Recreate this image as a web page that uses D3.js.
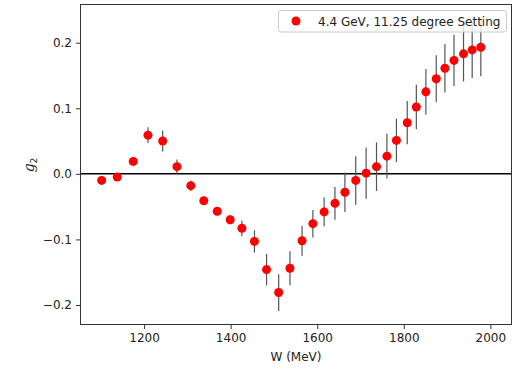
<!DOCTYPE html>
<html>
<head>
    <meta charset="utf-8">
    <title>g2 vs W</title>
    <style>
        body { margin: 0; padding: 0; background: #fff; }
        text { font-family: "DejaVu Sans", sans-serif; fill: #222; }
    </style>
</head>
<body>
    <div id="chart"></div>
    <script src="https://d3js.org/d3.v7.min.js"></script>
    <script>
        // data
        var wValues = [1102, 1138, 1175, 1209, 1243, 1276, 1308, 1338, 1369, 1399, 1426, 1455,
            1483, 1511, 1537, 1565, 1590, 1616, 1641, 1664, 1689, 1713, 1737, 1761, 1783,
            1808, 1829, 1851, 1875, 1895, 1916, 1938, 1958, 1978];
        var g2Values = [-0.010, -0.005, 0.019, 0.059, 0.050, 0.011, -0.018, -0.041, -0.057, -0.070,
            -0.083, -0.103, -0.146, -0.181, -0.144, -0.102, -0.076, -0.058, -0.045, -0.028,
            -0.010, 0.001, 0.011, 0.027, 0.051, 0.078, 0.102, 0.125, 0.145, 0.161, 0.173,
            0.183, 0.189, 0.193];
        var g2Errors = [0.004, 0.004, 0.004, 0.012, 0.016, 0.011, 0.008, 0.006, 0.006, 0.007,
            0.012, 0.017, 0.024, 0.028, 0.026, 0.023, 0.021, 0.022, 0.025, 0.030, 0.037,
            0.039, 0.037, 0.034, 0.033, 0.033, 0.034, 0.035, 0.036, 0.037, 0.039, 0.042,
            0.043, 0.044];
        var xTicks = [1200, 1400, 1600, 1800, 2000];
        var yTicks = [-0.2, -0.1, 0.0, 0.1, 0.2];
        var legendLabel = "4.4 GeV, 11.25 degree Setting";

        var width = 524, height = 368;
        var margin = { top: 4, right: 12, bottom: 43, left: 80 };
        var fontSize = "12px";

        var svg = d3.select("#chart").append("svg")
            .attr("width", width)
            .attr("height", height);

        var x = d3.scaleLinear().domain([1052, 2050]).range([margin.left, width - margin.right]);
        var y = d3.scaleLinear().domain([-0.2305, 0.259]).range([height - margin.bottom, margin.top]);

        var points = wValues.map(function (w, i) {
            return { w: w, g: g2Values[i], e: g2Errors[i] };
        });

        var plot = svg.append("g");
        plot.append("clipPath").attr("id", "clip")
            .append("rect")
            .attr("x", margin.left).attr("y", margin.top)
            .attr("width", width - margin.left - margin.right)
            .attr("height", height - margin.top - margin.bottom);

        var inner = plot.append("g").attr("clip-path", "url(#clip)");

        // zero line
        inner.append("line")
            .attr("x1", margin.left).attr("x2", width - margin.right)
            .attr("y1", y(0)).attr("y2", y(0))
            .style("stroke", "#000")
            .style("stroke-width", 1.5);

        // error bars
        inner.selectAll(".err").data(points).enter().append("line")
            .attr("class", "err")
            .attr("x1", function (d) { return x(d.w); })
            .attr("x2", function (d) { return x(d.w); })
            .attr("y1", function (d) { return y(d.g - d.e); })
            .attr("y2", function (d) { return y(d.g + d.e); })
            .style("stroke", "#555")
            .style("stroke-width", 1.2);

        // markers
        inner.selectAll(".dot").data(points).enter().append("circle")
            .attr("class", "dot")
            .attr("cx", function (d) { return x(d.w); })
            .attr("cy", function (d) { return y(d.g); })
            .attr("r", 4.5)
            .style("fill", "#ff0000");

        // axes
        var xAxis = svg.append("g")
            .attr("transform", "translate(0," + (height - margin.bottom) + ")")
            .call(d3.axisBottom(x).tickValues(xTicks).tickSize(4).tickPadding(4).tickFormat(d3.format("d")));
        var yAxis = svg.append("g")
            .attr("transform", "translate(" + margin.left + ",0)")
            .call(d3.axisLeft(y).tickValues(yTicks).tickSize(4).tickPadding(4)
                .tickFormat(function (d) { return d3.format(".1f")(d).replace("-", "\u2212"); }));

        [xAxis, yAxis].forEach(function (a) {
            a.select(".domain").remove();
            a.selectAll("line").style("stroke", "#333");
            a.selectAll("text").style("font-size", fontSize).style("fill", "#222")
                .style("font-family", "DejaVu Sans");
        });

        // frame
        svg.append("rect")
            .attr("x", margin.left + 0.5).attr("y", margin.top + 0.5)
            .attr("width", width - margin.left - margin.right - 1)
            .attr("height", height - margin.top - margin.bottom - 1)
            .style("fill", "none")
            .style("stroke", "#333")
            .style("stroke-width", 1);

        // axis labels
        svg.append("text")
            .attr("x", (margin.left + width - margin.right) / 2)
            .attr("y", 361)
            .attr("text-anchor", "middle")
            .style("font-size", fontSize)
            .text("W (MeV)");

        var yl = svg.append("text")
            .attr("transform", "translate(34,165) rotate(-90)")
            .attr("text-anchor", "middle")
            .style("font-size", "14px");
        yl.append("tspan").style("font-style", "italic").style("font-family", "DejaVu Serif").text("g");
        yl.append("tspan").attr("dy", 3).style("font-size", "9px").text("2");

        // legend
        var legend = svg.append("g");
        legend.append("rect")
            .attr("x", 278.5).attr("y", 10.5)
            .attr("width", 228).attr("height", 21.5)
            .attr("rx", 2.5)
            .style("fill", "#fff")
            .style("fill-opacity", 0.8)
            .style("stroke", "#ccc")
            .style("stroke-width", 1);
        legend.append("circle")
            .attr("cx", 296).attr("cy", 21)
            .attr("r", 4.5)
            .style("fill", "#ff0000");
        legend.append("text")
            .attr("x", 318).attr("y", 25.5)
            .style("font-size", fontSize)
            .text(legendLabel);
    </script>
</body>
</html>
